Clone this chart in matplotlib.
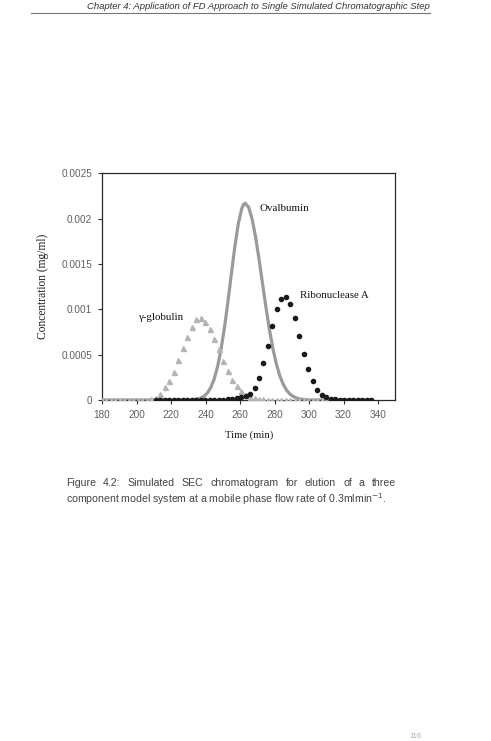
import matplotlib
matplotlib.use("Agg")
import matplotlib.pyplot as plt

# ---------------- data ----------------
time_pts = [180.0, 182.6, 185.2, 187.8, 190.4, 193.0, 195.6, 198.2, 200.8, 203.4,
            206.0, 208.6, 211.2, 213.8, 216.4, 219.0, 221.6, 224.2, 226.8, 229.4,
            232.0, 234.6, 237.2, 239.8, 242.4, 245.0, 247.6, 250.2, 252.8, 255.4,
            258.0, 260.6, 263.2, 265.8, 268.4, 271.0, 273.6, 276.2, 278.8, 281.4,
            284.0, 286.6, 289.2, 291.8, 294.4, 297.0, 299.6, 302.2, 304.8, 307.4,
            310.0, 312.6, 315.2, 317.8, 320.4, 323.0, 325.6, 328.2, 330.8, 333.4, 336.0]

globulin = [0, 0, 0, 0, 0, 0, 0, 0, 0.000001, 0.000002,
            0.000005, 0.00001, 0.000025, 0.000066, 0.00014, 0.00021, 0.00031, 0.000437, 0.00057, 0.000697,
            0.00081, 0.00089, 0.0009, 0.000855, 0.000785, 0.000675, 0.000558, 0.000433, 0.000319, 0.00022,
            0.00015, 0.000102, 0.000058, 0.000036, 0.000019, 0.00001, 0.000006, 0.000003, 0.000002, 0.000001,
            0, 0, 0, 0, 0, 0, 0, 0, 0, 0,
            0, 0, 0, 0, 0, 0, 0, 0, 0, 0, 0]

ribo_time = time_pts[12:]
ribonuclease = [0, 0, 0, 0, 0, 0, 0, 0, 0, 0,
                0, 0, 0.000001, 0.000002, 0.000003, 0.000004, 0.000007, 0.000012, 0.00002, 0.000028,
                0.00004, 0.000066, 0.000136, 0.000242, 0.000404, 0.000598, 0.000815, 0.000999, 0.00111, 0.00114,
                0.00106, 0.000903, 0.000708, 0.000507, 0.000338, 0.000213, 0.000114, 0.000055, 0.00003, 0.000015,
                0.000008, 0.000004, 0.000002, 0.000001, 0, 0, 0, 0, 0]

oval_time = [180, 230, 235, 237, 239, 241, 243, 245, 247, 249, 251, 253, 255, 257, 259, 261, 262, 263,
             265, 267, 269, 271, 273, 275, 277, 279, 281, 283, 285, 287, 289, 291, 293, 295, 300, 337]
ovalbumin = [0, 0, 0.0000095, 0.00002, 0.00004, 0.000076, 0.000136, 0.00023, 0.000369, 0.000559,
             0.000801, 0.001086, 0.001393, 0.001692, 0.001943, 0.002111, 0.002155, 0.00217,
             0.002125, 0.001996, 0.001799, 0.001555, 0.001289, 0.001025, 0.000782, 0.000572,
             0.000401, 0.00027, 0.000175, 0.000108, 0.000064, 0.000037, 0.00002, 0.00001, 0, 0]

x_ticks = [180, 200, 220, 240, 260, 280, 300, 320, 340]
y_ticks = [0, 0.0005, 0.001, 0.0015, 0.002, 0.0025]
y_tick_labels = ["0", "0.0005", "0.001", "0.0015", "0.002", "0.0025"]

# ---------------- figure ----------------
W, H = 491, 741
fig = plt.figure(figsize=(W / 100, H / 100), dpi=100)
fig.patch.set_facecolor("white")

def fx(px):
    return px / W

def fy(py):
    return 1 - py / H

ax = fig.add_axes([fx(102), fy(400), fx(395.3) - fx(102), fy(173.3) - fy(400)])

ax.plot(oval_time, ovalbumin, color="#9a9a9a", lw=2.3, zorder=2,
        solid_capstyle="round", solid_joinstyle="round")
ax.plot(time_pts, globulin, linestyle="none", marker="^", ms=3.6,
        color="#b4b4b4", mec="#b4b4b4", zorder=3)
ax.plot(ribo_time, ribonuclease, linestyle="none", marker="o", ms=3.0,
        color="#1a1a1a", mec="#1a1a1a", zorder=4)

ax.set_xlim(180, 350)
ax.set_ylim(0, 0.0025)
ax.set_xticks(x_ticks)
ax.set_xticklabels([str(t) for t in x_ticks])
ax.set_yticks(y_ticks)
ax.set_yticklabels(y_tick_labels)

for lab in ax.get_xticklabels() + ax.get_yticklabels():
    lab.set_fontfamily("Liberation Sans")
    lab.set_fontsize(7.2)
    lab.set_color("#606060")
ax.tick_params(direction="out", length=3, width=0.8, color="#333333", pad=4)
for s in ax.spines.values():
    s.set_color("#2a2a2a")
    s.set_linewidth(0.9)

serif = "Liberation Serif"
ax.set_xlabel("Time (min)", fontfamily=serif, fontsize=7.7, color="#1a1a1a", labelpad=8)
ax.set_ylabel("Concentration (mg/ml)", fontfamily=serif, fontsize=8.3, color="#1a1a1a", labelpad=9)

ax.text(271.0, 0.00211, "Ovalbumin", fontfamily=serif, fontsize=7.8, color="#111111",
        ha="left", va="center")
ax.text(294.8, 0.001156, "Ribonuclease A", fontfamily=serif, fontsize=7.8, color="#111111",
        ha="left", va="center")
ax.text(201.6, 0.00091, "\u03b3-globulin", fontfamily=serif, fontsize=7.8, color="#111111",
        ha="left", va="center")

# header
fig.text(fx(258), fy(6.5), "Chapter 4: Application of FD Approach to Single Simulated Chromatographic Step",
         ha="center", va="center", fontfamily="Liberation Sans", fontstyle="italic",
         fontsize=6.8, color="#333333")
fig.add_artist(plt.Line2D([fx(31), fx(430)], [fy(13.3), fy(13.3)], color="#777777", lw=0.8))

# caption (first line justified)
capfont = dict(fontfamily="Liberation Sans", fontsize=7.6, color="#444444")
line1 = "Figure 4.2: Simulated SEC chromatogram for elution of a three".split(" ")
fig.canvas.draw()
renderer = fig.canvas.get_renderer()
words = []
widths = []
for w in line1:
    t = fig.text(0, fy(483), w, ha="left", va="center", **capfont)
    bb = t.get_window_extent(renderer=renderer)
    words.append(t)
    widths.append(bb.width)
x0, x1 = 66, 396
gap = (x1 - x0 - sum(widths)) / (len(words) - 1)
cur = x0
for t, wd in zip(words, widths):
    t.set_x(fx(cur))
    cur += wd + gap

fig.text(fx(66), fy(499), "component model system at a mobile phase flow rate of 0.3mlmin$^{-1}$.",
         ha="left", va="center", **capfont)

fig.text(fx(416), fy(737), "116", ha="center", va="center", fontfamily="Liberation Sans",
         fontsize=5.5, color="#aaaaaa")

fig.savefig("out.png", dpi=100, facecolor="white")
